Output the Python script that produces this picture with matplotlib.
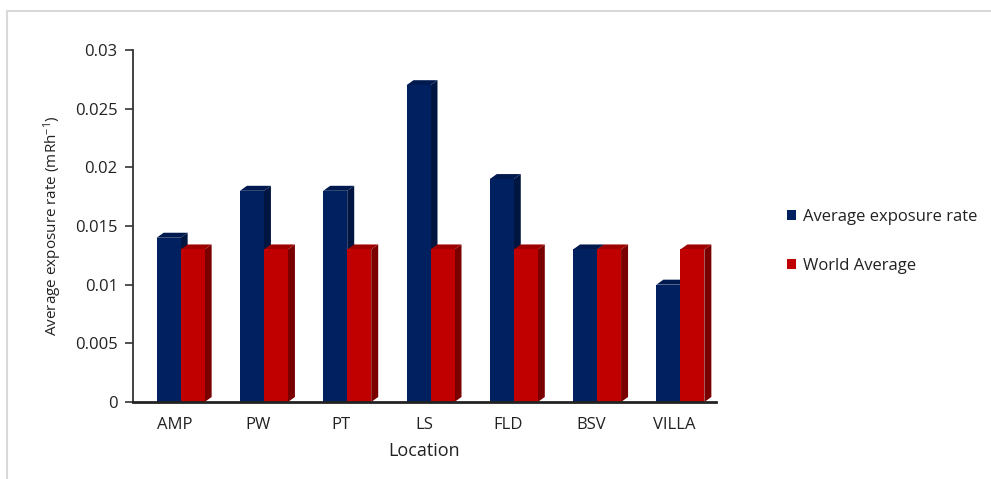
import matplotlib
matplotlib.use("Agg")
import matplotlib.pyplot as plt
from matplotlib.patches import Polygon, Patch
from matplotlib.lines import Line2D

plt.rcParams['font.family'] = ['Open Sans', 'DejaVu Sans']
plt.rcParams['mathtext.fontset'] = 'custom'
plt.rcParams['mathtext.rm'] = 'Open Sans'
plt.rcParams['mathtext.it'] = 'Open Sans'

locations = ["AMP", "PW", "PT", "LS", "FLD", "BSV", "VILLA"]
avg_rate = [0.014, 0.018, 0.018, 0.027, 0.019, 0.013, 0.010]
world_avg = [0.013, 0.013, 0.013, 0.013, 0.013, 0.013, 0.013]
yticks = [0, 0.005, 0.01, 0.015, 0.02, 0.025, 0.03]

W, H = 991, 479
fig = plt.figure(figsize=(W / 100, H / 100), dpi=100)
ax = fig.add_axes([133 / W, 77 / H, 583 / W, 352 / H])

ax.set_xlim(-0.5, 6.5)
ax.set_ylim(0, 0.03)

# pixel -> data conversions for the fake 3D depth
px_x = 7.0 / 583
px_y = 0.03 / 352
dx = 7 * px_x
dy = 5 * px_y
bw = 24 * px_x
off = 6 * px_x

series = [
    (avg_rate, -bw + off, "#002060", "#00153F", "#001A50"),
    (world_avg, off, "#C00000", "#7A0000", "#9E0000"),
]

for i in range(len(locations)):
    for vals, shift, front, side, top in series:
        x0 = i + shift
        x1 = x0 + bw
        v = vals[i]
        ax.add_patch(Polygon([(x1, 0), (x1 + dx, dy), (x1 + dx, v + dy), (x1, v)],
                             closed=True, facecolor=side, edgecolor='none'))
        ax.add_patch(Polygon([(x0, v), (x0 + dx, v + dy), (x1 + dx, v + dy), (x1, v)],
                             closed=True, facecolor=top, edgecolor='none'))
        ax.bar(x0, v, width=bw, align='edge', color=front, edgecolor='none')

ax.set_xticks(range(len(locations)))
ax.set_xticklabels(locations, fontsize=12, color='#222222')
ax.set_yticks(yticks)
ax.set_yticklabels(['{:g}'.format(t) for t in yticks], fontsize=12, color='#222222')
ax.tick_params(axis='x', length=0, pad=11)
ax.tick_params(axis='y', length=6, width=1.2, color='#333333', pad=5)

for s in ['top', 'right']:
    ax.spines[s].set_visible(False)
ax.spines['left'].set_color('#333333')
ax.spines['left'].set_linewidth(1.3)
ax.spines['bottom'].set_color('#222222')
ax.spines['bottom'].set_linewidth(2)

ax.set_xlabel("Location", fontsize=13, labelpad=6, color='#222222')
ax.set_ylabel(r"Average exposure rate (mRh$^{\mathrm{-1}}$)", fontsize=11, labelpad=8,
              color='#222222')

handles = [Patch(facecolor="#002060", label="Average exposure rate"),
           Patch(facecolor="#C00000", label="World Average")]
fig.legend(handles=handles, loc='upper left', bbox_to_anchor=(772 / W, 1 - 194 / H),
           frameon=False, fontsize=12, handlelength=0.55, handleheight=0.55,
           handletextpad=0.4, labelspacing=1.95, labelcolor='#222222')

# light chart border (top and left edges)
fig.add_artist(Line2D([7 / W, 1], [1 - 11 / H, 1 - 11 / H], transform=fig.transFigure,
                      color='#D9D9D9', linewidth=1.5))
fig.add_artist(Line2D([7 / W, 7 / W], [0, 1 - 11 / H], transform=fig.transFigure,
                      color='#D9D9D9', linewidth=1.5))

fig.savefig("out.png", dpi=100)
